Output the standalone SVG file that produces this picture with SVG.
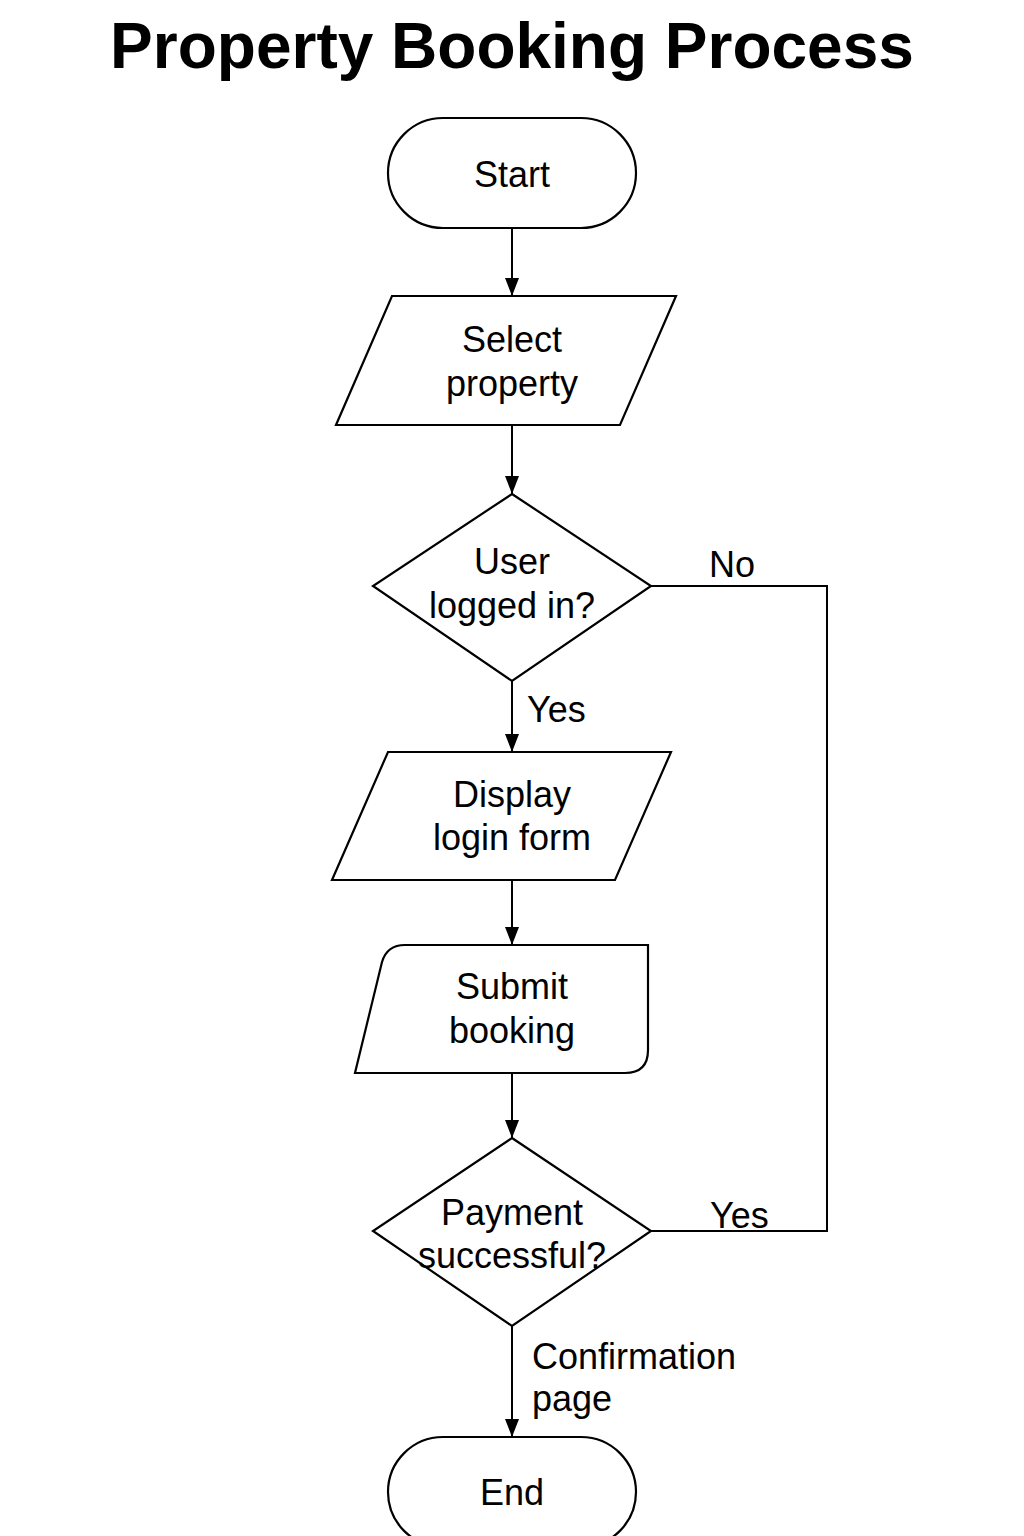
<svg xmlns="http://www.w3.org/2000/svg" width="1024" height="1536" viewBox="0 0 1024 1536">
<defs>
<marker id="arr" markerWidth="18" markerHeight="14" refX="18" refY="7" orient="auto" markerUnits="userSpaceOnUse" viewBox="0 0 18 14">
<path d="M0,0 L18,7 L0,14 z" fill="#000"/>
</marker>
<style>
.s{fill:#fff;stroke:#000;stroke-width:2.2}
.t{font-family:"Liberation Sans",Arial,sans-serif;font-size:36px;fill:#000;text-anchor:middle}
.l{font-family:"Liberation Sans",Arial,sans-serif;font-size:36px;fill:#000}
.c{fill:none;stroke:#000;stroke-width:2}
</style>
</defs>
<rect width="1024" height="1536" fill="#fff"/>
<text x="512" y="68" font-family="Liberation Sans, Arial, sans-serif" font-weight="bold" font-size="64" text-anchor="middle">Property Booking Process</text>
<g id="connectors">
<line class="c" x1="512" y1="228" x2="512" y2="296" marker-end="url(#arr)"/>
<line class="c" x1="512" y1="425" x2="512" y2="494" marker-end="url(#arr)"/>
<line class="c" x1="512" y1="681" x2="512" y2="752" marker-end="url(#arr)"/>
<line class="c" x1="512" y1="880" x2="512" y2="945" marker-end="url(#arr)"/>
<line class="c" x1="512" y1="1073" x2="512" y2="1138" marker-end="url(#arr)"/>
<line class="c" x1="512" y1="1326" x2="512" y2="1437" marker-end="url(#arr)"/>
<polyline class="c" points="651,586 827,586 827,1231 651,1231"/>
<text class="l" x="527" y="722">Yes</text>
<text class="l" x="709" y="577">No</text>
<text class="l" x="710" y="1228">Yes</text>
<text class="l" x="532" y="1369">Confirmation</text>
<text class="l" x="532" y="1411">page</text>
</g>
<g id="start">
<rect class="s" x="388" y="118" width="248" height="110" rx="55" ry="55"/>
<text class="t" x="512" y="187">Start</text>
</g>
<g id="select-property">
<polygon class="s" points="392,296 676,296 620,425 336,425"/>
<text class="t" x="512" y="352">Select</text>
<text class="t" x="512" y="396">property</text>
</g>
<g id="user-logged-in">
<polygon class="s" points="512,494 651,586 512,681 373,586"/>
<text class="t" x="512" y="574">User</text>
<text class="t" x="512" y="618">logged in?</text>
</g>
<g id="display-login-form">
<polygon class="s" points="388,752 671,752 615,880 332,880"/>
<text class="t" x="512" y="807">Display</text>
<text class="t" x="512" y="850">login form</text>
</g>
<g id="submit-booking">
<path class="s" d="M405,945 L648,945 L648,1050 Q648,1073 625,1073 L355,1073 L382,962 Q387,945 405,945 Z"/>
<text class="t" x="512" y="999">Submit</text>
<text class="t" x="512" y="1043">booking</text>
</g>
<g id="payment-successful">
<polygon class="s" points="512,1138 651,1231 512,1326 373,1231"/>
<text class="t" x="512" y="1225">Payment</text>
<text class="t" x="512" y="1268">successful?</text>
</g>
<g id="end">
<rect class="s" x="388" y="1437" width="248" height="110" rx="55" ry="55"/>
<text class="t" x="512" y="1505">End</text>
</g>
</svg>
